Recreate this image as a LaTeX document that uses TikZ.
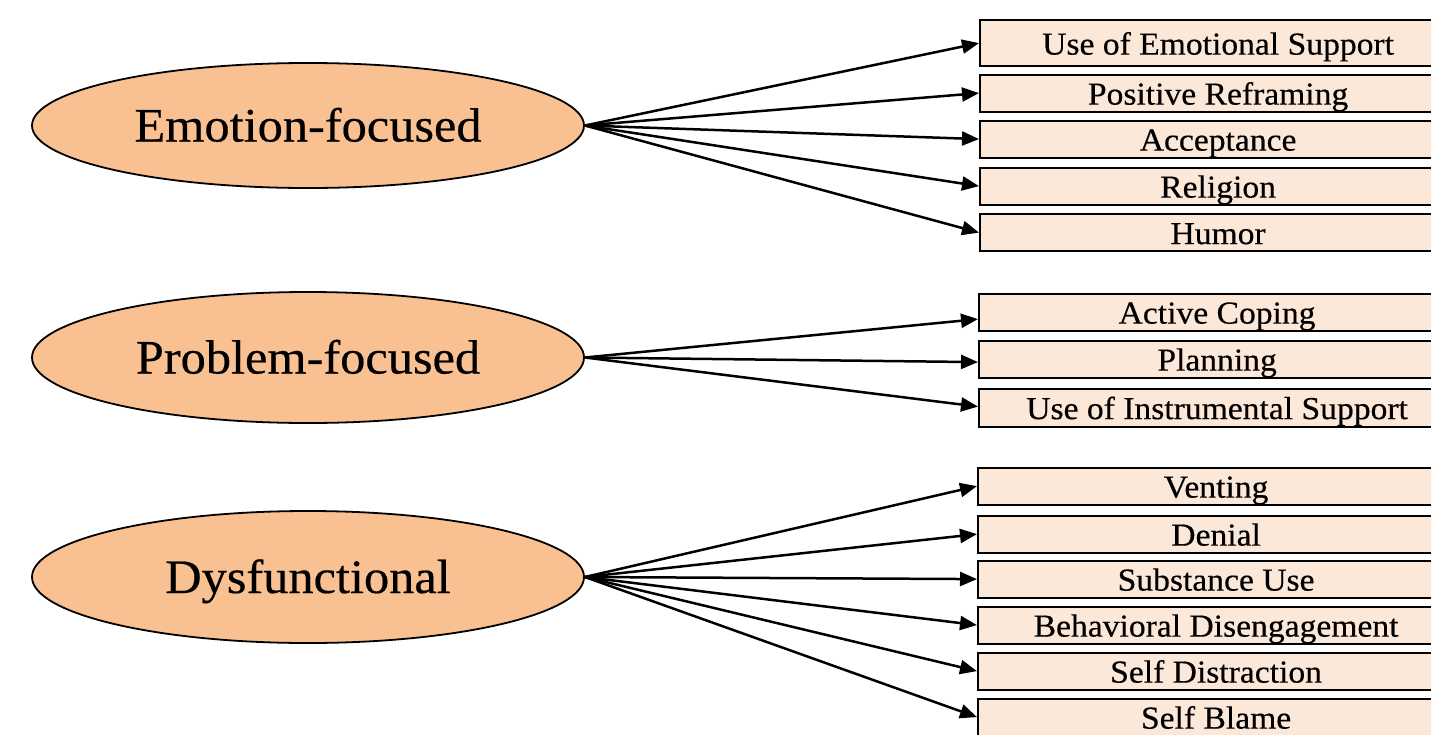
\documentclass[tikz,border=0pt]{standalone}
\usepackage{fontspec}
\setmainfont{Liberation Serif}[FakeStretch=1.05,FakeBold=0.4]
\usetikzlibrary{shapes.geometric,arrows.meta,calc}
\definecolor{ellfill}{HTML}{F9C191}
\definecolor{boxfill}{HTML}{FCE8D9}
\begin{document}
\begin{tikzpicture}[x=1pt,y=-1pt,
  cat/.style={ellipse, draw=black, line width=1.8pt, fill=ellfill, minimum width=552pt, inner sep=0pt, font=\fontsize{48}{56}\selectfont, text height=32pt, text depth=0pt},
  item/.style={rectangle, draw=black, line width=2.2pt, fill=boxfill, minimum width=476pt, minimum height=37pt, inner sep=0pt, anchor=north west, font=\fontsize{32}{38}\selectfont, text height=23pt, text depth=0pt},
  arr/.style={line width=2.5pt, -{Triangle[length=17pt,width=14pt]}}]
\useasboundingbox (0,0) rectangle (1431,734);
\clip (0,0) rectangle (1431,734);
\fill[white] (0,0) rectangle (1431,734);
% categories
\node[cat, minimum height=125pt] (emo) at (308,125.5) {Emotion-focused};
\node[cat, minimum height=131pt] (prob) at (308,357.5) {Problem-focused};
\node[cat, minimum height=132pt] (dys) at (308,577) {Dysfunctional};
% emotion-focused items
\node[item, minimum height=46pt] (e1) at (979,19) {Use of Emotional Support};
\node[item] (e2) at (979,73.5) {Positive Reframing};
\node[item] (e3) at (979,119.5) {Acceptance};
\node[item] (e4) at (979,166.5) {Religion};
\node[item] (e5) at (979,213) {Humor};
% problem-focused items
\node[item] (p1) at (978,292.5) {Active Coping};
\node[item] (p2) at (978,339.5) {Planning};
\node[item, minimum height=38pt] (p3) at (978,387.5) {Use of Instrumental Support};
% dysfunctional items
\node[item] (d1) at (977,466.5) {Venting};
\node[item] (d2) at (977,514.5) {Denial};
\node[item] (d3) at (977,559.5) {Substance Use};
\node[item] (d4) at (977,605.5) {Behavioral Disengagement};
\node[item] (d5) at (977,651.5) {Self Distraction};
\node[item] (d6) at (977,697.5) {Self Blame};
% connectors
\foreach \b in {e1,e2,e3,e4,e5} \draw[arr] (emo.east) -- (\b.west);
\draw[arr] (prob.east) -- ($(p1.west)+(0,7)$);
\draw[arr] (prob.east) -- ($(p2.west)+(0,3)$);
\draw[arr] (prob.east) -- ($(p3.west)+(0,-1)$);
\foreach \b in {d1,d2,d3,d4,d5,d6} \draw[arr] (dys.east) -- (\b.west);
\end{tikzpicture}
\end{document}
